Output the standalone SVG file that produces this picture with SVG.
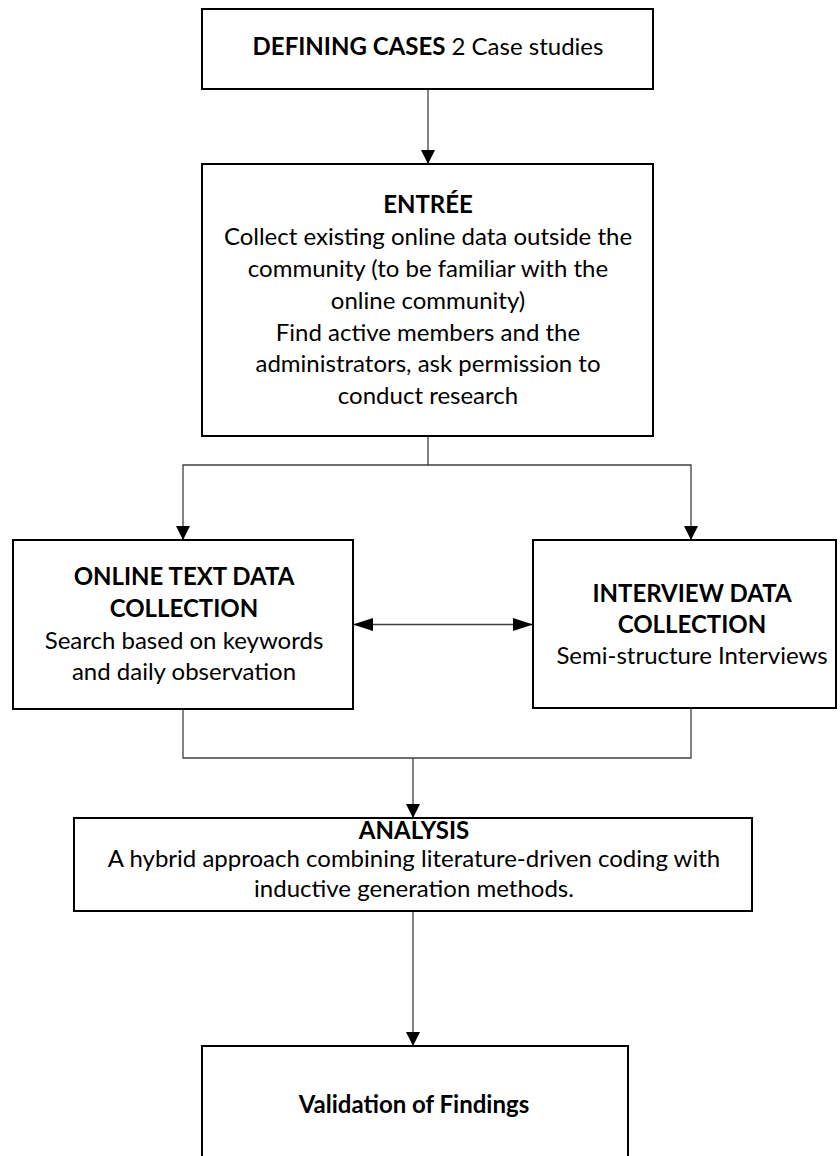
<svg xmlns="http://www.w3.org/2000/svg" width="840" height="1156" viewBox="0 0 840 1156">
  <style>
    .box { fill: #ffffff; stroke: #000000; stroke-width: 2; }
    .t { font-family: "Lato", "Open Sans", sans-serif; font-size: 24px; fill: #000000; text-anchor: middle; }
    .b { font-weight: bold; }
    .c { fill: none; stroke: #404040; stroke-width: 1.3; }
  </style>
  <defs>
    <marker id="av" viewBox="0 0 14 14" refX="14" refY="7" markerWidth="14" markerHeight="14" markerUnits="userSpaceOnUse" orient="auto">
      <path d="M0,0 L14,7 L0,14 Z" fill="#000000"/>
    </marker>
    <marker id="ah" viewBox="0 0 20 13" refX="20" refY="6.5" markerWidth="20" markerHeight="13" markerUnits="userSpaceOnUse" orient="auto">
      <path d="M0,0 L20,6.5 L0,13 Z" fill="#000000"/>
    </marker>
    <marker id="ahs" viewBox="0 0 20 13" refX="0" refY="6.5" markerWidth="20" markerHeight="13" markerUnits="userSpaceOnUse" orient="auto">
      <path d="M20,0 L0,6.5 L20,13 Z" fill="#000000"/>
    </marker>
  </defs>

  <rect width="840" height="1156" fill="#ffffff"/>

  <g id="connectors">
    <path class="c" d="M428,89 L428,164" marker-end="url(#av)"/>
    <path class="c" d="M428,436 L428,465 L183,465 L183,540" marker-end="url(#av)"/>
    <path class="c" d="M428,465 L691,465 L691,540" marker-end="url(#av)"/>
    <path class="c" d="M353,624.5 L533,624.5" marker-start="url(#ahs)" marker-end="url(#ah)"/>
    <path class="c" d="M183,709 L183,758 L691,758 L691,708"/>
    <path class="c" d="M413,758 L413,818" marker-end="url(#av)"/>
    <path class="c" d="M413,911 L413,1046" marker-end="url(#av)"/>
  </g>

  <g id="defining">
    <rect class="box" x="202" y="9" width="451" height="80"/>
    <text class="t" x="428" y="55"><tspan class="b">DEFINING CASES</tspan> 2 Case studies</text>
  </g>

  <g id="entree">
    <rect class="box" x="202" y="164" width="451" height="272"/>
    <text class="t b" x="428" y="213">ENTRÉE</text>
    <text class="t" x="428" y="245">Collect existing online data outside the</text>
    <text class="t" x="428" y="277">community (to be familiar with the</text>
    <text class="t" x="428" y="308.5">online community)</text>
    <text class="t" x="428" y="340.5">Find active members and the</text>
    <text class="t" x="428" y="372">administrators, ask permission to</text>
    <text class="t" x="428" y="404">conduct research</text>
  </g>

  <g id="online">
    <rect class="box" x="13" y="540" width="340" height="169"/>
    <text class="t b" x="184" y="585">ONLINE TEXT DATA</text>
    <text class="t b" x="184" y="617">COLLECTION</text>
    <text class="t" x="184" y="649">Search based on keywords</text>
    <text class="t" x="184" y="680">and daily observation</text>
  </g>

  <g id="interview">
    <rect class="box" x="533" y="540" width="303" height="168"/>
    <text class="t b" x="692" y="601.5">INTERVIEW DATA</text>
    <text class="t b" x="692" y="633">COLLECTION</text>
    <text class="t" x="692" y="664">Semi-structure Interviews</text>
  </g>

  <g id="analysis">
    <rect class="box" x="74" y="818" width="678" height="93"/>
    <text class="t b" x="414" y="838.5">ANALYSIS</text>
    <text class="t" x="414" y="866.5">A hybrid approach combining literature-driven coding with</text>
    <text class="t" x="414" y="897">inductive generation methods.</text>
  </g>

  <g id="validation">
    <rect class="box" x="202" y="1046" width="426" height="130"/>
    <text class="t b" x="414" y="1113">Validation of Findings</text>
  </g>
</svg>
